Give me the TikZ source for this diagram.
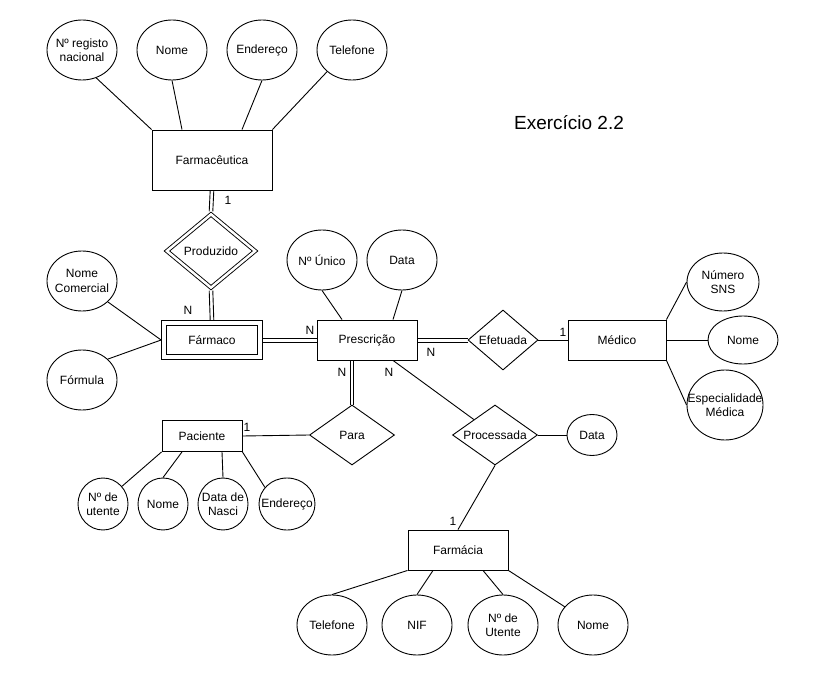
\documentclass[tikz,border=0pt]{standalone}
\usepackage{fontspec}
\setmainfont{Liberation Sans}
\usetikzlibrary{shapes.geometric,calc}
\begin{document}
\begin{tikzpicture}[x=1pt,y=-1pt, line width=0.9pt, font=\fontsize{12}{14.5}\selectfont,
  ent/.style n args={2}{rectangle, draw, minimum width=#1, minimum height=#2, inner sep=0pt},
  attr/.style n args={3}{ellipse, draw, minimum width=#1, minimum height=#2, inner sep=0pt,
     label={[align=center]center:{#3}}},
  rel/.style n args={3}{diamond, draw, minimum width=#1, minimum height=#2, inner sep=0pt,
     label={center:{#3}}},
  hup/.style={transform canvas={yshift=2pt}},
  hdn/.style={transform canvas={yshift=-2pt}},
  vlf/.style={transform canvas={xshift=-1.8pt}},
  vrt/.style={transform canvas={xshift=1.8pt}},
  card/.style={inner sep=0pt}]
\useasboundingbox[fill=white] (0,0) rectangle (826,684);

% Title
\node (title) at (569,123) {\fontsize{19}{22}\selectfont Exercício 2.2};

% Farmaceutica
\node[ent={120pt}{60pt}] (farm) at (212,160) {Farmacêutica};
\node[attr={70pt}{60pt}{Nº registo\\nacional}] (reg) at (82,50) {};
\node[attr={70pt}{60pt}{Nome}] (nome1) at (172,50) {};
\node[attr={70pt}{60pt}{Endereço}] (end1) at (262,50) {};
\node[attr={70pt}{60pt}{Telefone}] (tel1) at (352,50) {};

% Produzido
\node[rel={90pt}{75pt}{Produzido}, double, double distance=2.5pt, outer sep=2.2pt] (prod) at (211,251) {};

% Farmaco
\node[ent={96pt}{34pt}, double, double distance=4pt, outer sep=2.9pt] (farmaco) at (212,340) {Fármaco};
\node[attr={70pt}{60pt}{Nome\\Comercial}] (ncom) at (82,281) {};
\node[attr={70pt}{60pt}{Fórmula}] (form) at (82,380) {};

% Prescricao
\node[ent={100pt}{40pt}] (presc) at (367,340) {Prescrição};
\node[attr={70pt}{60pt}{Nº Único}] (nunico) at (322,260) {};
\node[attr={70pt}{60pt}{Data}] (data1) at (402,260) {};

% Efetuada / Medico
\node[rel={70pt}{60pt}{Efetuada}] (efet) at (503,340) {};
\node[ent={98pt}{40pt}] (med) at (617,340) {Médico};
\node[attr={72pt}{58pt}{Número\\SNS}] (nsns) at (723,282) {};
\node[attr={70pt}{48pt}{Nome}] (nome3) at (743,340) {};
\node[attr={76pt}{70pt}{Especialidade\\Médica}] (esp) at (725,405) {};

% Para / Paciente
\node[rel={85pt}{60pt}{Para}] (para) at (352,435) {};
\node[ent={80pt}{31pt}] (pac) at (202,436) {Paciente};
\node[attr={50pt}{52pt}{Nº de\\utente}] (ut) at (103,504) {};
\node[attr={50pt}{52pt}{Nome}] (nome2) at (163,504) {};
\node[attr={50pt}{52pt}{Data de\\Nasci}] (dn) at (223,504) {};
\node[attr={56pt}{52pt}{Endereço}] (end2) at (287,504) {};

% Processada / Farmacia
\node[rel={85pt}{60pt}{Processada}] (proc) at (495,435) {};
\node[attr={50pt}{41pt}{Data}] (data2) at (592,435) {};
\node[ent={100pt}{40pt}] (farmacia) at (458,550) {Farmácia};
\node[attr={70pt}{60pt}{Telefone}] (tel2) at (332,625) {};
\node[attr={70pt}{60pt}{NIF}] (nif) at (417,625) {};
\node[attr={70pt}{60pt}{Nº de\\Utente}] (nut) at (503,625) {};
\node[attr={70pt}{60pt}{Nome}] (nome4) at (593,625) {};

% Cardinalities
\node[card] (c1) at (228,200) {1};
\node[card] (c2) at (188,310) {N};
\node[card] (c3) at (310,330) {N};
\node[card] (c4) at (431,352) {N};
\node[card] (c5) at (563,332) {1};
\node[card] (c6) at (342,372) {N};
\node[card] (c7) at (389,372) {N};
\node[card] (c8) at (247,427) {1};
\node[card] (c9) at (453,521) {1};

% Connectors: Farmaceutica
\draw (reg.-63) -- (farm.north west);
\draw (nome1.south) -- ($(farm.north)+(-30,0)$);
\draw (end1.south) -- ($(farm.north)+(30,0)$);
\draw (tel1.-139) -- (farm.north east);
\draw[vlf] (farm.south) -- (prod.north);
\draw[vrt] (farm.south) -- (prod.north);
\draw[vlf] (prod.south) -- (farmaco.north);
\draw[vrt] (prod.south) -- (farmaco.north);

% Farmaco
\draw (ncom.-39) -- (farmaco.west);
\draw (form.39) -- (farmaco.west);
\draw[hup] (farmaco.east) -- (presc.west);
\draw[hdn] (farmaco.east) -- (presc.west);

% Prescricao
\draw (nunico.south) -- ($(presc.north)+(-25,0)$);
\draw (data1.south) -- ($(presc.north)+(26,0)$);
\draw[hup] (presc.east) -- (efet.west);
\draw[hdn] (presc.east) -- (efet.west);
\draw (efet.east) -- (med.west);
\draw[vlf] ($(presc.south)+(-15,0)$) -- (para.north);
\draw[vrt] ($(presc.south)+(-15,0)$) -- (para.north);
\draw ($(presc.south)+(26,0)$) -- (proc);

% Medico
\draw (med.north east) -- (nsns.west);
\draw (med.east) -- (nome3.west);
\draw (med.south east) -- (esp.west);

% Paciente
\draw (pac.east) -- (para.west);
\draw (ut.43) -- (pac.south west);
\draw (nome2.north) -- ($(pac.south)+(-20,0)$);
\draw (dn.north) -- ($(pac.south)+(20,0)$);
\draw (end2.143) -- (pac.south east);

% Processada / Farmacia
\draw (proc.east) -- (data2.west);
\draw (proc.south) -- (farmacia.north);
\draw (tel2.north) -- (farmacia.south west);
\draw (nif.north) -- ($(farmacia.south)+(-25,0)$);
\draw (nut.north) -- ($(farmacia.south)+(25,0)$);
\draw (nome4) -- (farmacia.south east);
\end{tikzpicture}
\end{document}
